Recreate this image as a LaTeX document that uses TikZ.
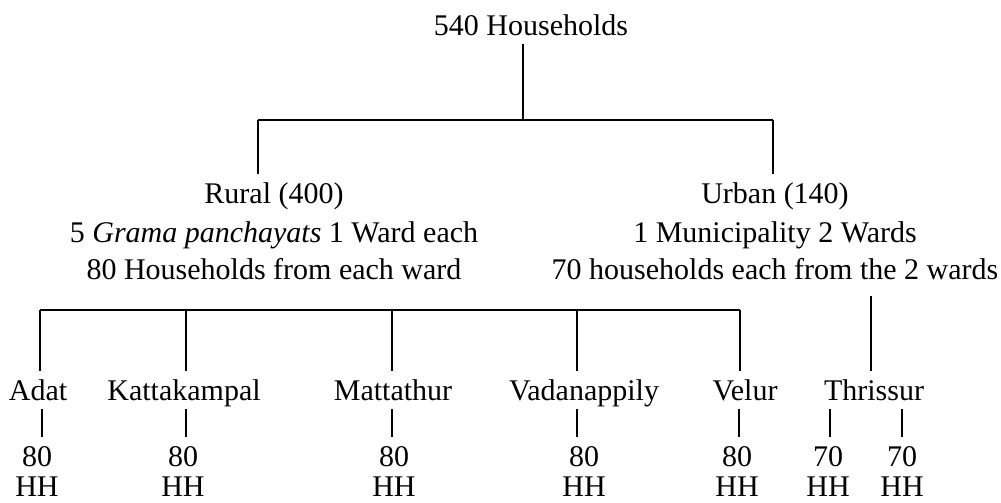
\documentclass[tikz,border=0pt]{standalone}
\usepackage{fontspec}
\setmainfont{Liberation Serif}

\begin{document}
\begin{tikzpicture}[x=0.5pt,y=-0.5pt,line width=1.2pt,
  text node/.style={anchor=base,inner sep=4pt,text height=10pt,text depth=0pt,
    font=\fontsize{15pt}{18pt}\selectfont},
  hh node/.style={text node,inner ysep=0pt}]

  \useasboundingbox (0,0) rectangle (1001,503);

  \node[text node] (total) at (531,35) {540 Households};
  \node[text node] (rural) at (274,203) {Rural (400)};
  \node[text node] (rural2) at (274,242) {5 \textit{Grama panchayats} 1 Ward each};
  \node[text node] (rural3) at (274,279) {80 Households from each ward};
  \node[text node] (urban) at (775,203) {Urban (140)};
  \node[text node] (urban2) at (775,242) {1 Municipality 2 Wards};
  \node[text node] (urban3) at (775,279) {70 households each from the 2 wards};

  \node[text node] (adat) at (38,400) {Adat};
  \node[text node] (katta) at (184,400) {Kattakampal};
  \node[text node] (matta) at (393,400) {Mattathur};
  \node[text node] (vada) at (584,400) {Vadanappily};
  \node[text node] (velur) at (745,400) {Velur};
  \node[text node] (thri) at (874,400) {Thrissur};

  \node[text node] (n1) at (37,466) {80};
  \node[text node] (n2) at (183,466) {80};
  \node[text node] (n3) at (394,466) {80};
  \node[text node] (n4) at (584,466) {80};
  \node[text node] (n5) at (737,466) {80};
  \node[text node] (n6) at (828,466) {70};
  \node[text node] (n7) at (902,466) {70};
  \node[hh node] (h1) at (37,496) {HH};
  \node[hh node] (h2) at (183,496) {HH};
  \node[hh node] (h3) at (394,496) {HH};
  \node[hh node] (h4) at (584,496) {HH};
  \node[hh node] (h5) at (737,496) {HH};
  \node[hh node] (h6) at (828,496) {HH};
  \node[hh node] (h7) at (902,496) {HH};

  \coordinate (top) at (523,120);
  \coordinate (rbus) at (258,120);
  \coordinate (ubus) at (773,120);
  \coordinate (w1) at (40,310);
  \coordinate (w2) at (186,310);
  \coordinate (w3) at (392,310);
  \coordinate (w4) at (577,310);
  \coordinate (w5) at (740,310);
  \coordinate (tw) at (871,296);

  \draw (total.south -| top) -- (top);
  \draw (rbus) -- (ubus);
  \draw (rbus) -- (rbus |- rural.north);
  \draw (ubus) -- (ubus |- urban.north);
  \draw (w1) -- (w5);
  \draw (w1) -- (w1 |- adat.north);
  \draw (w2) -- (w2 |- katta.north);
  \draw (w3) -- (w3 |- matta.north);
  \draw (w4) -- (w4 |- vada.north);
  \draw (w5) -- (w5 |- velur.north);
  \draw (tw) -- (tw |- thri.north);

  \foreach \x/\a/\b in {42/adat/n1,186/katta/n2,392/matta/n3,577/vada/n4,
    739/velur/n5,830/thri/n6,902/thri/n7}
    \draw (\x,0 |- \a.south) -- (\x,0 |- \b.north);
\end{tikzpicture}
\end{document}
